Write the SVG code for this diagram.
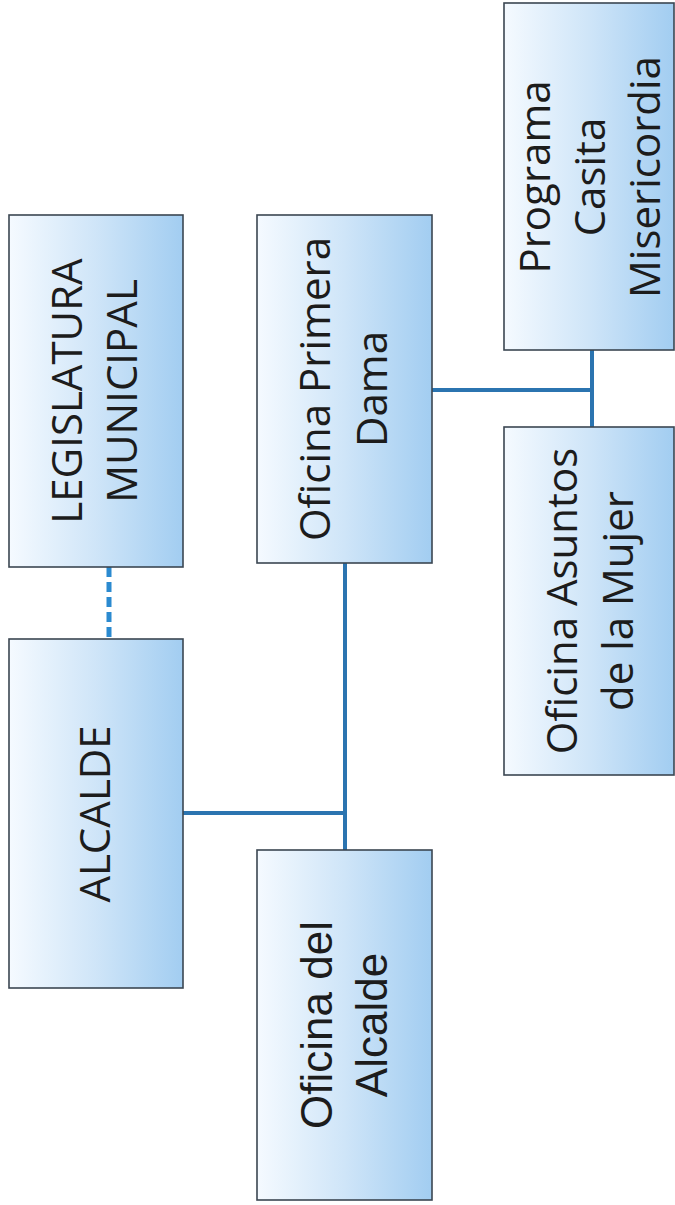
<svg xmlns="http://www.w3.org/2000/svg" width="675" height="1205" viewBox="0 0 675 1205">
<defs>
<linearGradient id="g" x1="0" y1="0" x2="1" y2="0">
<stop offset="0" stop-color="#f5faff"/>
<stop offset="0.5" stop-color="#cfe5f8"/>
<stop offset="1" stop-color="#a2cdf1"/>
</linearGradient>
<style>
.box{fill:url(#g);stroke:#3b4652;stroke-width:1.6}
.t{font-family:"Open Sans","Liberation Sans",sans-serif;font-size:42px;fill:#1c1c1c;text-anchor:middle}
.ta{font-family:"Liberation Sans",Arial,sans-serif;font-size:44px;fill:#1c1c1c;text-anchor:middle}
.c{stroke:#2b74b0;stroke-width:4;fill:none}
.d{stroke:#2b8ad0;stroke-width:5;fill:none;stroke-dasharray:10 5}
</style>
</defs>
<rect width="675" height="1205" fill="#ffffff"/>
<g id="connectors">
<line class="d" x1="109" y1="567" x2="109" y2="639"/>
<line class="c" x1="183" y1="813" x2="345" y2="813"/>
<line class="c" x1="345" y1="563" x2="345" y2="850"/>
<line class="c" x1="432" y1="390" x2="592" y2="390"/>
<line class="c" x1="592" y1="350" x2="592" y2="427"/>
</g>
<g id="legislatura">
<rect class="box" x="9" y="215" width="174" height="352"/>
<text class="t" transform="translate(82,391) rotate(-90)"><tspan x="0" y="0">LEGISLATURA</tspan><tspan x="0" y="55">MUNICIPAL</tspan></text>
</g>
<g id="alcalde">
<rect class="box" x="9" y="639" width="174" height="349"/>
<text class="t" transform="translate(110,814) rotate(-90)">ALCALDE</text>
</g>
<g id="oficina-primera-dama">
<rect class="box" x="257" y="215" width="175" height="348"/>
<text class="t" transform="translate(330,389) rotate(-90)"><tspan x="0" y="0">Oficina Primera</tspan><tspan x="0" y="57">Dama</tspan></text>
</g>
<g id="oficina-del-alcalde">
<rect class="box" x="257" y="850" width="175" height="350"/>
<text class="ta" transform="translate(332,1025) rotate(-90)"><tspan x="0" y="0">Oficina del</tspan><tspan x="0" y="55">Alcalde</tspan></text>
</g>
<g id="programa-casita">
<rect class="box" x="504" y="3" width="170" height="347"/>
<text class="t" transform="translate(550,177) rotate(-90)"><tspan x="0" y="0">Programa</tspan><tspan x="0" y="55">Casita</tspan><tspan x="0" y="110">Misericordia</tspan></text>
</g>
<g id="oficina-asuntos-mujer">
<rect class="box" x="504" y="427" width="170" height="348"/>
<text class="t" transform="translate(577,601) rotate(-90)"><tspan x="0" y="0">Oficina Asuntos</tspan><tspan x="0" y="56">de la Mujer</tspan></text>
</g>
</svg>
